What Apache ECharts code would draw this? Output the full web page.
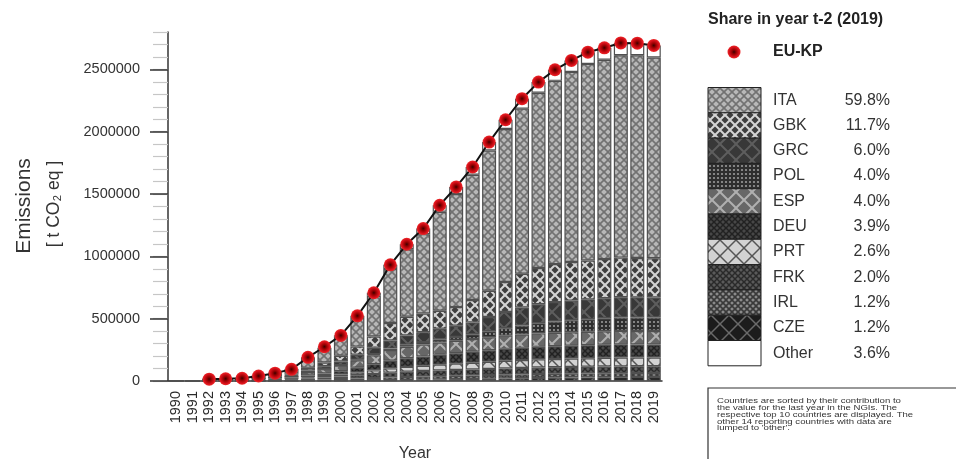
<!DOCTYPE html>
<html>
<head>
<meta charset="utf-8">
<script src="https://cdn.jsdelivr.net/npm/echarts@6/dist/echarts.min.js"></script>
<style>
    html, body {margin: 0; padding: 0; background: #fff;}
    #chart {width: 956px; height: 459px;}
</style>
</head>
<body>
<div id="chart"></div>
<script>
var years = ['1990', '1991', '1992', '1993', '1994', '1995', '1996', '1997', '1998', '1999',
    '2000', '2001', '2002', '2003', '2004', '2005', '2006', '2007', '2008', '2009',
    '2010', '2011', '2012', '2013', '2014', '2015', '2016', '2017', '2018', '2019'];

// EU-KP total (red dots)
var euKp = [null, null, 15000, 18000, 22000, 40000, 63000, 94000, 190000, 275000,
    366000, 523000, 708000, 932000, 1097000, 1223000, 1410000, 1557000, 1717000, 1917000,
    2096000, 2265000, 2398000, 2497000, 2572000, 2638000, 2673000, 2712000, 2710000, 2692000];

// country contributions, t CO2 eq
var ita = [0, 0, 8000, 8500, 9500, 15000, 22000, 31500, 79500, 118000,
    152000, 229000, 326000, 434000, 541000, 636000, 794000, 907000, 1005000, 1125000,
    1228000, 1325000, 1407000, 1470000, 1525000, 1577000, 1599000, 1624000, 1626000, 1610000];
var gbk = [0, 0, 0, 0, 0, 2000, 5000, 10000, 20000, 30000,
    45000, 65000, 90000, 140000, 150000, 150000, 145000, 150000, 180000, 210000,
    240000, 270000, 290000, 305000, 310000, 312000, 314000, 318000, 316000, 315000];
var grc = [0, 0, 1000, 1500, 2000, 4000, 6000, 9000, 15000, 22000,
    30000, 40000, 52000, 65000, 75000, 80000, 85000, 90000, 95000, 115000,
    130000, 145000, 152000, 156000, 158000, 160000, 161000, 163000, 162000, 161000];
var pol = [0, 0, 0, 0, 0, 0, 0, 500, 1000, 2000,
    3000, 5000, 8000, 12000, 16000, 20000, 25000, 30000, 38000, 48000,
    60000, 72000, 82000, 90000, 96000, 100000, 104000, 107000, 108000, 108000];
var esp = [0, 0, 2000, 2500, 3000, 6000, 10000, 14000, 25000, 35000,
    45000, 60000, 72000, 85000, 92000, 95000, 98000, 100000, 102000, 104000,
    106000, 107000, 108000, 108000, 108000, 108000, 108000, 108000, 108000, 108000];
var deu = [0, 0, 1500, 2000, 3000, 5000, 8000, 10000, 15000, 20000,
    27000, 38000, 50000, 62000, 70000, 75000, 80000, 84000, 88000, 92000,
    95000, 98000, 100000, 102000, 103000, 104000, 105000, 106000, 105000, 105000];
var prt = [0, 0, 500, 1000, 1500, 2500, 4000, 6000, 9000, 12000,
    16000, 22000, 28000, 34000, 38000, 42000, 46000, 50000, 54000, 58000,
    62000, 64000, 66000, 67000, 68000, 69000, 70000, 71000, 70000, 70000];
var frk = [0, 0, 1500, 1800, 2000, 3000, 4000, 6000, 12000, 16000,
    20000, 26000, 32000, 38000, 42000, 44000, 46000, 47000, 48000, 49000,
    50000, 51000, 52000, 52000, 53000, 53000, 54000, 54000, 54000, 54000];
var irl = [0, 0, 500, 700, 1000, 2000, 3000, 5000, 8000, 11000,
    14000, 17000, 20000, 22000, 24000, 25000, 26000, 27000, 28000, 29000,
    30000, 30000, 31000, 31000, 31000, 32000, 32000, 32000, 32000, 32000];
var cze = [0, 0, 0, 0, 0, 0, 0, 0, 500, 1000,
    2000, 3000, 5000, 7000, 9000, 11000, 13000, 15000, 17000, 19000,
    21000, 23000, 25000, 27000, 28000, 29000, 30000, 31000, 32000, 32000];
var other = [0, 0, 0, 0, 0, 500, 1000, 2000, 5000, 8000,
    12000, 18000, 25000, 33000, 40000, 45000, 52000, 57000, 62000, 68000,
    74000, 80000, 85000, 89000, 92000, 94000, 96000, 98000, 97000, 97000];

// legend, top to bottom
var countryNames = ['ITA', 'GBK', 'GRC', 'POL', 'ESP', 'DEU', 'PRT', 'FRK', 'IRL', 'CZE', 'Other'];
var shares = ['59.8%', '11.7%', '6.0%', '4.0%', '4.0%', '3.9%', '2.6%', '2.0%', '1.2%', '1.2%', '3.6%'];

var yMax = 2800000;
var yMajorTicks = [0, 500000, 1000000, 1500000, 2000000, 2500000];

var noteText = 'Countries are sorted by their contribution to\n' +
    'the value for the last year in the NGIs. The\n' +
    'respective top 10 countries are displayed. The\n' +
    'other 14 reporting countries with data are\n' +
    'lumped to \'other\'.';

var FONT = 'Liberation Sans, Arial, sans-serif';

// small canvas tiles to imitate the hatch fills
function hatch(bg, fg, size, lw, kind) {
    var c = document.createElement('canvas');
    c.width = size;
    c.height = size;
    var g = c.getContext('2d');
    g.fillStyle = bg;
    g.fillRect(0, 0, size, size);
    g.strokeStyle = fg;
    g.fillStyle = fg;
    g.lineWidth = lw;
    if (kind === 'dots') {
        g.beginPath();
        g.arc(size / 2, size / 2, lw, 0, Math.PI * 2);
        g.fill();
    } else {
        for (var k = -size; k <= size; k += size) {
            g.beginPath();
            g.moveTo(k, 0);
            g.lineTo(k + size, size);
            g.stroke();
            g.beginPath();
            g.moveTo(k + size, 0);
            g.lineTo(k, size);
            g.stroke();
        }
    }
    return {image: c, repeat: 'repeat'};
}

var fills = {
    ITA: hatch('#b8b8b8', '#727272', 8, 1.6),
    GBK: hatch('#3e3e3e', '#d4d4d4', 10, 2),
    GRC: hatch('#383838', '#5e5e5e', 16, 2),
    POL: hatch('#2e2e2e', '#9a9a9a', 4, 1.1, 'dots'),
    ESP: hatch('#676767', '#b0b0b0', 16, 2),
    DEU: hatch('#474747', '#222222', 6, 1.5),
    PRT: hatch('#d2d2d2', '#555555', 16, 1.5),
    FRK: hatch('#5a5a5a', '#2a2a2a', 6, 1.5),
    IRL: hatch('#8c8c8c', '#3a3a3a', 6, 1.6),
    CZE: hatch('#1c1c1c', '#6a6a6a', 18, 1.5),
    Other: '#ffffff'
};

var dotFill = {
    type: 'radial', x: 0.5, y: 0.5, r: 0.5,
    colorStops: [
        {offset: 0, color: '#3a0000'},
        {offset: 0.3, color: '#900000'},
        {offset: 0.75, color: '#d8101a'},
        {offset: 1, color: '#ec2a2a'}
    ]
};

var stackData = {
    CZE: cze, IRL: irl, FRK: frk, PRT: prt, DEU: deu, ESP: esp,
    POL: pol, GRC: grc, GBK: gbk, ITA: ita, Other: other
};
var stackOrder = ['CZE', 'IRL', 'FRK', 'PRT', 'DEU', 'ESP', 'POL', 'GRC', 'GBK', 'ITA', 'Other'];

var series = stackOrder.map(function (name) {
    return {
        name: name,
        type: 'bar',
        stack: 'total',
        barWidth: 14,
        data: stackData[name],
        itemStyle: {color: fills[name], borderColor: '#505050', borderWidth: 1.2}
    };
});
series.push({
    name: 'EU-KP',
    type: 'line',
    data: euKp,
    z: 5,
    symbol: 'circle',
    symbolSize: 13,
    lineStyle: {color: '#111', width: 2},
    itemStyle: {color: dotFill, borderWidth: 0}
});

// legend block on the right, axis title, note
var graphics = [
    {type: 'text', x: 708, y: 20, style: {text: 'Share in year t-2 (2019)', font: 'bold 16px ' + FONT, fill: '#222', verticalAlign: 'middle'}},
    {type: 'circle', shape: {cx: 734, cy: 52, r: 6.5}, style: {fill: dotFill}},
    {type: 'text', x: 773, y: 52, style: {text: 'EU-KP', font: 'bold 16px ' + FONT, fill: '#222', verticalAlign: 'middle'}},
    {type: 'text', x: 24, y: 206, rotation: Math.PI / 2, style: {text: 'Emissions', font: '21px ' + FONT, fill: '#333', align: 'center', verticalAlign: 'middle'}},
    {type: 'text', x: 54, y: 204, rotation: Math.PI / 2, style: {text: '[ t CO\u2082 eq ]', font: '17.5px ' + FONT, fill: '#333', align: 'center', verticalAlign: 'middle'}},
    {type: 'rect', shape: {x: 708, y: 388, width: 260, height: 90}, style: {fill: '#fff', stroke: '#333', lineWidth: 1.2}},
    {type: 'text', x: 717, y: 398, scaleX: 1.23, style: {text: noteText, font: '7.8px ' + FONT, lineHeight: 6.7, fill: '#333'}}
];
var rowH = 25.3, rowTop = 87.5;
countryNames.forEach(function (name, i) {
    var y = rowTop + i * rowH;
    graphics.push({type: 'rect', shape: {x: 708, y: y, width: 53, height: rowH}, style: {fill: fills[name], stroke: '#222', lineWidth: 1}});
    graphics.push({type: 'text', x: 773, y: y + rowH / 2, style: {text: name, font: '16px ' + FONT, fill: '#333', verticalAlign: 'middle'}});
    graphics.push({type: 'text', x: 890, y: y + rowH / 2, style: {text: shares[i], font: '16px ' + FONT, fill: '#333', align: 'right', verticalAlign: 'middle'}});
});

var chart = echarts.init(document.getElementById('chart'), null, {renderer: 'canvas'});
chart.setOption({
    animation: false,
    backgroundColor: '#fff',
    grid: {left: 168, right: 294, top: 32, bottom: 78, outerBoundsMode: 'none', containLabel: false},
    xAxis: {
        type: 'category',
        data: years,
        name: 'Year',
        nameLocation: 'middle',
        nameGap: 65,
        nameTextStyle: {fontSize: 16, color: '#333', fontFamily: FONT},
        axisLine: {lineStyle: {color: '#333', width: 1.5}},
        axisTick: {alignWithLabel: true, length: 4, lineStyle: {color: '#333'}},
        axisLabel: {rotate: 90, interval: 0, fontSize: 14.5, color: '#2a2a2a', fontFamily: FONT, margin: 10}
    },
    yAxis: [{
        type: 'value',
        min: 0,
        max: yMax,
        interval: 100000,
        axisLine: {show: true, lineStyle: {color: '#333', width: 1.5}},
        axisTick: {show: true, length: 15, lineStyle: {color: '#c6c6c6', width: 1.2}},
        axisLabel: {show: false},
        splitLine: {show: false}
    }, {
        type: 'value',
        min: 0,
        max: yMax,
        position: 'left',
        axisLine: {show: false},
        axisTick: {show: true, length: 18, customValues: yMajorTicks, lineStyle: {color: '#333', width: 1.5}},
        axisLabel: {
            customValues: yMajorTicks, margin: 28, fontSize: 14.5, color: '#333', fontFamily: FONT,
            formatter: function (v) { return String(v); }
        },
        splitLine: {show: false}
    }],
    graphic: graphics,
    series: series
});
</script>
</body>
</html>
